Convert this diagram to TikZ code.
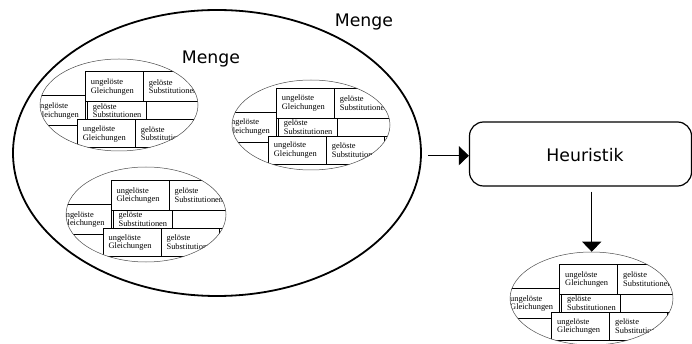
\documentclass[tikz,border=0pt]{standalone}
\usepackage{fontspec}
\setmainfont{Liberation Serif}
\newfontfamily\dejavu{DejaVu Sans}
\usetikzlibrary{shapes.geometric,arrows.meta}
\hyphenpenalty=10000
\exhyphenpenalty=10000

\tikzset{
  cell/.style={draw=black, fill=white, line width=0.8pt, anchor=north west,
    inner xsep=5.5pt, inner ysep=0pt, align=left,
    font=\fontsize{8.4}{8.6}\selectfont},
  smallset/.style={ellipse, draw=black!70, line width=0.5pt, inner sep=0pt},
  bigset/.style={ellipse, draw=black, line width=1.8pt, inner sep=0pt},
  heurbox/.style={rectangle, rounded corners=14pt, draw=black, line width=1.2pt, inner sep=0pt},
  sanstext/.style={anchor=base, inner sep=0pt, font=\dejavu\fontsize{17.3}{20}\selectfont},
  arr/.style={-{Triangle[length=10pt,width=19pt]}, line width=1pt},
}

% One set of equation/substitution records, clipped by its ellipse.
% #1 name, #2 #3 corner of the first record, #4 #5 ellipse centre, #6 #7 radii
\newcommand\setcluster[7]{%
  \begin{scope}
    \clip (#4,#5) ellipse [x radius=#6pt, y radius=#7pt];
    \begin{scope}[shift={(#2,#3)}]
      \node[cell, text width=44pt, minimum height=30pt] (#1-c) at (-55,24) {ungelöste\\Gleichungen};
      \node[cell, text width=47pt, minimum height=30pt] (#1-a) at (0,0) {ungelöste\\Gleichungen};
      \node[cell, text width=51pt, minimum height=30pt] (#1-b) at (58,0) {gelöste\\Substitutionen};
      \node[cell, text width=48pt, minimum height=18pt] (#1-d) at (2,30) {gelöste\\Substitutionen};
      \node[cell, text width=48pt, minimum height=18pt] (#1-e) at (61,30) {};
      \node[cell, text width=47pt, minimum height=28pt] (#1-f) at (-8,48) {ungelöste\\Gleichungen};
      \node[cell, text width=47pt, minimum height=28pt] (#1-g) at (50,48) {gelöste\\Substitutionen};
    \end{scope}
  \end{scope}
  \node[smallset, minimum width=2*#6pt, minimum height=2*#7pt] (#1) at (#4,#5) {};
}

\begin{document}
\begin{tikzpicture}[x=1pt, y=-1pt]
  \useasboundingbox (0,0) rectangle (692,344);

  % outer set
  \node[bigset, minimum width=408pt, minimum height=286pt] (menge) at (217,153) {};
  \node[sanstext] (mengeouter) at (364,26.7) {Menge};
  \node[sanstext] (mengeinner) at (211,63.3) {Menge};

  % inner sets
  \setcluster{e1}{85}{71.3}{119}{105}{79}{46}
  \setcluster{e2}{276}{87.7}{311}{125}{79}{45}
  \setcluster{e3}{110.7}{180}{146}{214.5}{80}{47.5}
  \setcluster{e4}{559.3}{264}{591.5}{298.5}{81.5}{46.5}

  % heuristic
  \node[heurbox, minimum width=222pt, minimum height=64pt] (heur) at (580.5,154) {};
  \node[sanstext] (heurlbl) at (585,161.7) {Heuristik};

  % connectors
  \coordinate (a1) at (428,155.7);
  \draw[arr] (a1) -- (a1 -| heur.west);
  \coordinate (a2) at (591.7,191.7);
  \draw[arr] (a2) -- (a2 |- e4.north);
\end{tikzpicture}
\end{document}
